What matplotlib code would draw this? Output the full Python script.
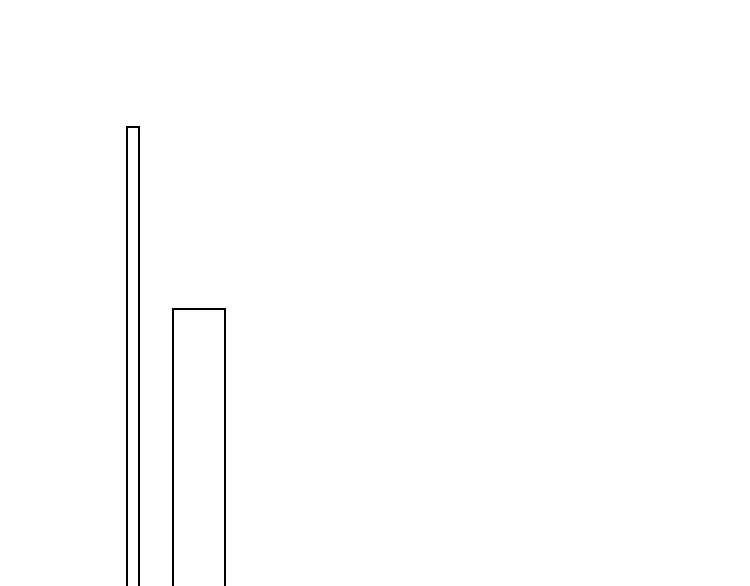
import matplotlib
matplotlib.use("Agg")
import matplotlib.pyplot as plt

# bar data (left edge, width, top value) in chart units
lefts = [127.3, 172.6]
widths = [11.7, 52.0]
values = [459.5, 277.0]
base = -20.0

fig = plt.figure(figsize=(7.5, 5.86), dpi=100)
ax = fig.add_axes([0, 0, 1, 1])
ax.bar(lefts, [v - base for v in values], width=widths, bottom=base, align="edge",
       facecolor="none", edgecolor="black", linewidth=1.45)
ax.set_xlim(0, 750)
ax.set_ylim(0, 586)
ax.axis("off")

fig.savefig("out.png", dpi=100, facecolor="white")
